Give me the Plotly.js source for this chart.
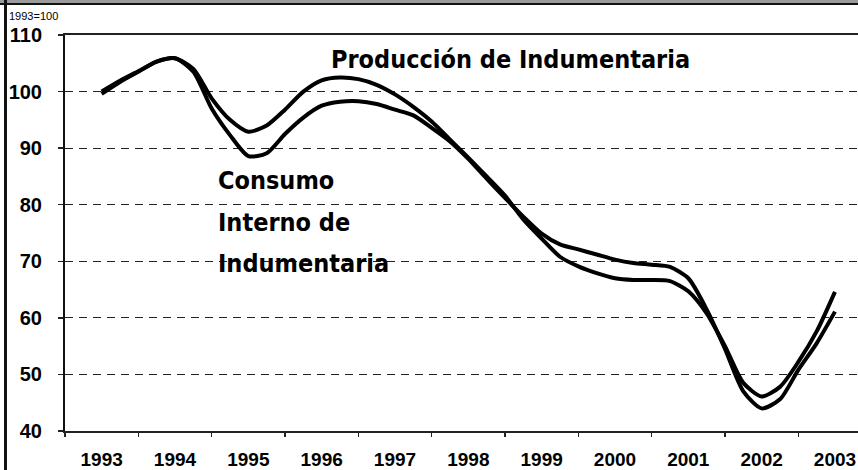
<!DOCTYPE html>
<html>
<head>
<meta charset="utf-8">
<script src="https://cdn.plot.ly/plotly-3.0.1.min.js"></script>
<style>
  html, body { margin: 0; padding: 0; background: #fff; }
  #wrap { position: relative; width: 858px; height: 470px; overflow: hidden; }
  #chart { position: absolute; left: 0; top: 0; width: 858px; height: 470px; }
  #topbar { position: absolute; left: 0; top: 0; width: 858px; height: 3px; background: #9a9a9a; }
  #topline { position: absolute; left: 0; top: 3px; width: 858px; height: 2px; background: #111; }
  #leftline { position: absolute; left: 4px; top: 0; width: 3px; height: 470px; background: #111; }
</style>
</head>
<body>
<div id="wrap">
  <div id="chart"></div>
  <div id="topbar"></div>
  <div id="topline"></div>
  <div id="leftline"></div>
</div>
<script>
// Quarterly periods (decimal years)
const periods = [1993, 1993.25, 1993.5, 1993.75, 1994, 1994.25, 1994.5, 1994.75,
  1995, 1995.25, 1995.5, 1995.75, 1996, 1996.25, 1996.5, 1996.75,
  1997, 1997.25, 1997.5, 1997.75, 1998, 1998.25, 1998.5, 1998.75,
  1999, 1999.25, 1999.5, 1999.75, 2000, 2000.25, 2000.5, 2000.75,
  2001, 2001.25, 2001.5, 2001.75, 2002, 2002.25, 2002.5, 2002.75, 2003];

// Producción de Indumentaria (1993=100)
const produccion = [100.0, 101.9, 103.6, 105.3, 105.9, 104.0, 98.8, 95.0,
  92.9, 94.0, 96.8, 100.0, 102.0, 102.5, 102.2, 101.2,
  99.5, 97.3, 94.7, 91.5, 88.3, 85.0, 81.6, 77.4,
  74.0, 70.8, 69.1, 67.9, 67.0, 66.7, 66.7, 66.5,
  64.7, 60.8, 55.0, 48.5, 46.1, 47.8, 52.2, 57.6, 64.6];

// Consumo Interno de Indumentaria (1993=100)
const consumo = [99.6, 101.7, 103.5, 105.3, 105.9, 103.5, 97.0, 92.3,
  88.6, 89.1, 92.5, 95.4, 97.5, 98.2, 98.3, 97.8,
  96.8, 95.8, 93.6, 91.2, 88.1, 84.6, 81.2, 77.9,
  74.9, 73.0, 72.1, 71.2, 70.3, 69.7, 69.4, 69.0,
  67.0, 61.5, 54.5, 47.0, 44.0, 45.6, 50.8, 55.5, 61.1];

const yearLabels = ["1993", "1994", "1995", "1996", "1997", "1998", "1999", "2000", "2001", "2002", "2003"];
const yearVals = [1993, 1994, 1995, 1996, 1997, 1998, 1999, 2000, 2001, 2002, 2003];
const yearBounds = [1992.5, 1993.5, 1994.5, 1995.5, 1996.5, 1997.5, 1998.5, 1999.5, 2000.5, 2001.5, 2002.5];
const yTicks = [40, 50, 60, 70, 80, 90, 100, 110];

const xRange = [1992.5, 2003.314];
const narrow = '"Liberation Sans Narrow", "Arial Narrow", "DejaVu Sans Condensed", sans-serif';
const arial = '"Liberation Sans", Arial, sans-serif';

const traces = [
  { x: periods, y: produccion, xaxis: 'x', yaxis: 'y', type: 'scatter', mode: 'lines',
    line: { color: '#000', width: 4, shape: 'spline', smoothing: 0.7 }, name: 'Producción de Indumentaria' },
  { x: periods, y: consumo, xaxis: 'x2', yaxis: 'y', type: 'scatter', mode: 'lines',
    line: { color: '#000', width: 4, shape: 'spline', smoothing: 0.7 }, name: 'Consumo Interno de Indumentaria' }
];

const layout = {
  width: 858, height: 470,
  margin: { l: 65, r: 0, t: 35, b: 39, pad: 0 },
  paper_bgcolor: '#fff', plot_bgcolor: '#fff',
  showlegend: false,
  xaxis: {
    range: xRange, fixedrange: true,
    tickmode: 'array', tickvals: yearVals, ticktext: yearLabels,
    ticks: '', showgrid: false, zeroline: false,
    showline: true, linecolor: '#222', linewidth: 2, mirror: true,
    tickfont: { family: arial, size: 19, color: '#000', weight: 'bold' },
    ticklabelstandoff: 10
  },
  xaxis2: {
    range: xRange, overlaying: 'x', anchor: 'y', side: 'bottom', fixedrange: true,
    tickmode: 'array', tickvals: yearBounds, ticks: 'outside', ticklen: 5, tickwidth: 1.5, tickcolor: '#222',
    showticklabels: false, showgrid: false, zeroline: false, showline: false
  },
  yaxis: {
    range: [40, 110], fixedrange: true,
    tickmode: 'array', tickvals: yTicks,
    ticks: 'outside', ticklen: 5, tickwidth: 1.5, tickcolor: '#222',
    showline: true, linecolor: '#111', linewidth: 2,
    showgrid: true, gridcolor: '#222', gridwidth: 1, griddash: '8px,6px',
    zeroline: false,
    tickfont: { family: arial, size: 20, color: '#000', weight: 'bold' },
    ticklabelstandoff: 12
  },
  annotations: [
    { xref: 'paper', yref: 'paper', x: -0.073, y: 1.048, xanchor: 'left', yanchor: 'middle',
      text: '1993=100', showarrow: false, font: { family: arial, size: 11, color: '#000' } },
    { xref: 'x', yref: 'y', x: 1996.10, y: 105.6, xanchor: 'left', yanchor: 'middle',
      text: 'Producción de Indumentaria', showarrow: false,
      font: { family: narrow, size: 25, color: '#000', weight: 'bold' } },
    { xref: 'x', yref: 'y', x: 1994.565, y: 84.2, xanchor: 'left', yanchor: 'middle',
      text: 'Consumo', showarrow: false,
      font: { family: narrow, size: 25, color: '#000', weight: 'bold' } },
    { xref: 'x', yref: 'y', x: 1994.565, y: 76.8, xanchor: 'left', yanchor: 'middle',
      text: 'Interno de', showarrow: false,
      font: { family: narrow, size: 25, color: '#000', weight: 'bold' } },
    { xref: 'x', yref: 'y', x: 1994.565, y: 69.6, xanchor: 'left', yanchor: 'middle',
      text: 'Indumentaria', showarrow: false,
      font: { family: narrow, size: 25, color: '#000', weight: 'bold' } }
  ]
};

Plotly.newPlot('chart', traces, layout, { staticPlot: true, displayModeBar: false });
</script>
</body>
</html>
